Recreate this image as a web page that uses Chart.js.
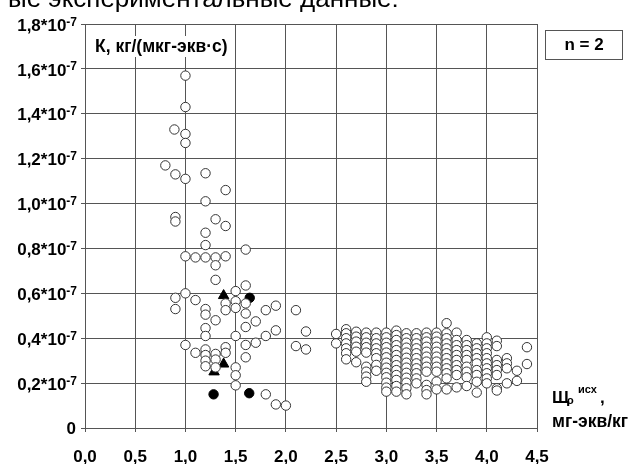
<!DOCTYPE html>
<html>
<head>
<meta charset="utf-8">
<script src="https://cdn.jsdelivr.net/npm/chart.js@4"></script>
<style>
  body { margin: 0; background: #fff; }
  .chart-box { position: relative; width: 628px; height: 464px; }
</style>
</head>
<body>
<div class="chart-box"><canvas id="myChart"></canvas></div>
<script>
// K values are in units of 10^-7
const openPoints = [
  [1.00, 1.57], [1.00, 1.43], [0.89, 1.33], [1.00, 1.31], [1.00, 1.27],
  [0.80, 1.17], [0.90, 1.13], [1.00, 1.11], [1.20, 1.135], [1.40, 1.06],
  [1.20, 1.01], [0.90, 0.94], [0.90, 0.92], [1.30, 0.93], [1.40, 0.90],
  [1.20, 0.87], [1.20, 0.815], [1.60, 0.795], [1.00, 0.765], [1.10, 0.76],
  [1.20, 0.76], [1.30, 0.76], [1.40, 0.765], [1.30, 0.725], [1.30, 0.66],
  [1.60, 0.635], [1.50, 0.61], [1.00, 0.60], [0.90, 0.58], [1.10, 0.57],
  [1.40, 0.555], [1.50, 0.565], [1.60, 0.555], [0.90, 0.53], [1.20, 0.53],
  [1.40, 0.525], [1.50, 0.535], [1.20, 0.505], [1.60, 0.51], [1.80, 0.525],
  [1.90, 0.545], [2.10, 0.525], [1.30, 0.48], [1.70, 0.475], [1.60, 0.45],
  [1.20, 0.445], [1.90, 0.435], [2.20, 0.43], [1.20, 0.41], [1.50, 0.41],
  [1.80, 0.41], [1.70, 0.38], [1.60, 0.37], [1.00, 0.37], [2.10, 0.365],
  [2.20, 0.35], [1.10, 0.335], [1.20, 0.35], [1.20, 0.325], [1.20, 0.30],
  [1.20, 0.275], [1.30, 0.33], [1.30, 0.305], [1.30, 0.27], [1.40, 0.36],
  [1.40, 0.335], [1.60, 0.315], [1.50, 0.27], [1.50, 0.235], [1.50, 0.19],
  [1.80, 0.15], [1.90, 0.105], [2.00, 0.10]
];

const clusterX = [2.5, 2.6, 2.7, 2.8, 2.9, 3.0, 3.1, 3.2, 3.3, 3.4, 3.5, 3.6, 3.7, 3.8, 3.9, 4.0, 4.1, 4.2, 4.3, 4.4];
const clusterY = [
  [0.419, 0.377],
  [0.44, 0.422, 0.40, 0.377, 0.355, 0.333, 0.306],
  [0.429, 0.407, 0.385, 0.362, 0.34, 0.293],
  [0.425, 0.404, 0.38, 0.36, 0.336, 0.273, 0.251, 0.229, 0.206],
  [0.425, 0.40, 0.377, 0.355, 0.333, 0.311, 0.281, 0.255],
  [0.425, 0.404, 0.38, 0.36, 0.336, 0.315, 0.291, 0.269, 0.246, 0.226, 0.202, 0.18, 0.162],
  [0.434, 0.414, 0.392, 0.369, 0.347, 0.325, 0.303, 0.28, 0.258, 0.236, 0.214, 0.187, 0.162],
  [0.422, 0.40, 0.38, 0.358, 0.336, 0.313, 0.291, 0.269, 0.246, 0.224, 0.202, 0.177, 0.15],
  [0.422, 0.40, 0.377, 0.355, 0.333, 0.311, 0.288, 0.266, 0.244, 0.221, 0.199],
  [0.425, 0.404, 0.385, 0.362, 0.34, 0.318, 0.296, 0.273, 0.251, 0.192, 0.169, 0.15],
  [0.425, 0.407, 0.385, 0.362, 0.34, 0.318, 0.296, 0.273, 0.251, 0.207, 0.172],
  [0.467, 0.422, 0.40, 0.377, 0.355, 0.333, 0.311, 0.288, 0.266, 0.244, 0.221, 0.172],
  [0.425, 0.392, 0.369, 0.347, 0.325, 0.303, 0.28, 0.258, 0.236, 0.181],
  [0.392, 0.369, 0.347, 0.325, 0.303, 0.273, 0.251, 0.226, 0.187],
  [0.377, 0.355, 0.333, 0.311, 0.288, 0.258, 0.236, 0.206, 0.158],
  [0.404, 0.377, 0.355, 0.333, 0.311, 0.288, 0.266, 0.244, 0.221, 0.199],
  [0.389, 0.365, 0.303, 0.28, 0.258, 0.236, 0.177, 0.167],
  [0.311, 0.288, 0.266, 0.199],
  [0.255, 0.21],
  [0.36, 0.285]
];

const blackCircles = [[1.64, 0.58], [1.28, 0.15], [1.635, 0.155]];
const blackTriangles = [[1.38, 0.59], [1.38, 0.285], [1.285, 0.25]];

const xTickLabels = ['0,0', '0,5', '1,0', '1,5', '2,0', '2,5', '3,0', '3,5', '4,0', '4,5'];
const yTickLabels = ['0', '0,2', '0,4', '0,6', '0,8', '1,0', '1,2', '1,4', '1,6', '1,8'];

const FONT = 'Arial, "Liberation Sans", sans-serif';

const toXY = (p) => ({ x: p[0], y: p[1] });
const openData = openPoints.map(toXY);
clusterX.forEach((x, i) => {
  clusterY[i].forEach((y) => openData.push({ x: x, y: y }));
});

// texts that are not part of the axes
const extraText = {
  id: 'extraText',
  afterDraw(chart) {
    const ctx = chart.ctx;
    const yScale = chart.scales.y;
    ctx.save();
    ctx.fillStyle = '#000';

    // y tick labels with the 10^-7 superscript
    yScale.ticks.forEach((t, i) => {
      const py = yScale.getPixelForValue(t.value);
      const label = yTickLabels[i];
      if (label === '0') {
        ctx.font = 'bold 17px ' + FONT;
        ctx.textAlign = 'right';
        ctx.textBaseline = 'middle';
        ctx.fillText(label, 76, py + 1);
        return;
      }
      ctx.font = 'bold 12px ' + FONT;
      ctx.textAlign = 'right';
      ctx.textBaseline = 'alphabetic';
      const supW = ctx.measureText('-7').width;
      ctx.fillText('-7', 77, py + 1.5);
      ctx.font = 'bold 17px ' + FONT;
      ctx.textBaseline = 'middle';
      ctx.fillText(label + '*10', 77 - supW, py + 2);
    });

    // cropped heading above the chart
    ctx.font = '26px ' + FONT;
    ctx.textAlign = 'left';
    ctx.textBaseline = 'alphabetic';
    ctx.fillText('ые экспериментальные данные:', 8, 7);

    // y axis title inside the plot
    ctx.fillStyle = '#fff';
    ctx.fillRect(91, 36, 142, 21);
    ctx.fillStyle = '#000';
    ctx.font = 'bold 17.5px ' + FONT;
    ctx.textBaseline = 'middle';
    ctx.fillText('К, кг/(мкг-экв·с)', 95, 47);

    // n = 2 box
    ctx.strokeStyle = '#555';
    ctx.lineWidth = 1;
    ctx.strokeRect(545.5, 30.5, 77, 29);
    ctx.font = 'bold 17px ' + FONT;
    ctx.textAlign = 'center';
    ctx.fillText('n = 2', 584, 45);

    // x axis title
    ctx.textAlign = 'left';
    ctx.textBaseline = 'alphabetic';
    ctx.font = 'bold 17px ' + FONT;
    ctx.fillText('Щ', 552, 403);
    ctx.font = 'bold 11px ' + FONT;
    ctx.fillText('о', 567, 404);
    ctx.fillText('исх', 578, 393);
    ctx.font = 'bold 17px ' + FONT;
    ctx.fillText(',', 600, 403);
    ctx.font = 'bold 17.5px ' + FONT;
    ctx.fillText('мг-экв/кг', 552, 427);
    ctx.restore();
  }
};

const ctx = document.getElementById('myChart');

new Chart(ctx, {
  type: 'scatter',
  plugins: [extraText],
  data: {
    datasets: [
      {
        data: openData,
        pointStyle: 'circle',
        pointRadius: 4.7,
        backgroundColor: '#fff',
        borderColor: '#333',
        borderWidth: 1,
      },
      {
        data: blackCircles.map(toXY),
        pointStyle: 'circle',
        pointRadius: 4.7,
        backgroundColor: '#000',
        borderColor: '#000',
        borderWidth: 1,
      },
      {
        data: blackTriangles.map(toXY),
        pointStyle: 'triangle',
        pointRadius: 6,
        backgroundColor: '#000',
        borderColor: '#000',
        borderWidth: 1,
      },
    ],
  },
  options: {
    responsive: true,
    maintainAspectRatio: false,
    animation: false,
    layout: {
      padding: { top: 24, right: 91, left: 0, bottom: 0 },
    },
    plugins: {
      legend: { display: false },
      tooltip: { enabled: false },
    },
    scales: {
      x: {
        type: 'linear',
        min: 0,
        max: 4.5,
        afterFit: (scale) => { scale.height = 36; },
        ticks: {
          stepSize: 0.5,
          padding: 15,
          color: '#000',
          font: { size: 17, weight: 'bold', family: FONT },
          callback: (value, index) => xTickLabels[index],
        },
        grid: { color: '#555', tickLength: 4 },
        border: { color: '#555' },
      },
      y: {
        min: 0,
        max: 1.8,
        afterFit: (scale) => { scale.width = 85; },
        ticks: {
          stepSize: 0.2,
          display: false,
        },
        grid: { color: '#555', tickLength: 4 },
        border: { color: '#555' },
      },
    },
  },
});
</script>
</body>
